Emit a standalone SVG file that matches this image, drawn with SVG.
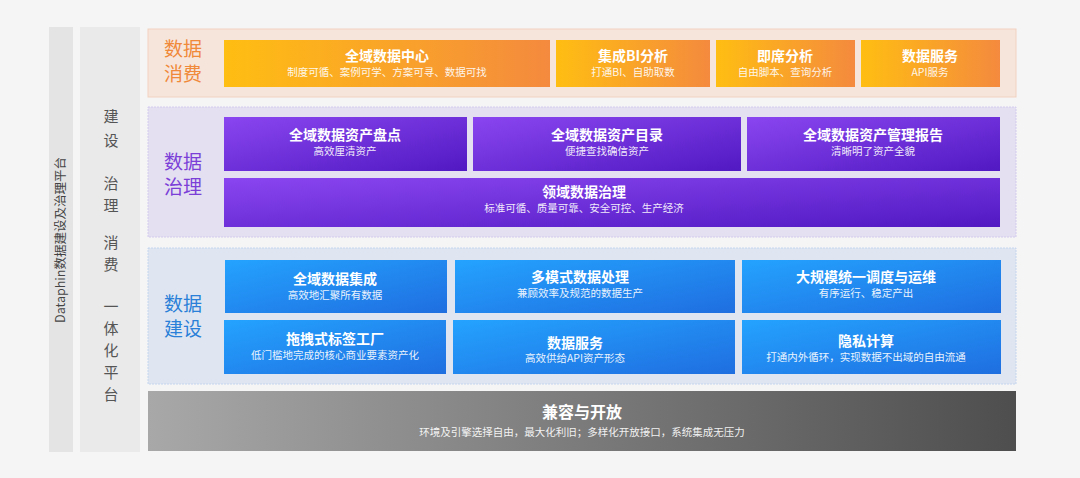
<svg xmlns="http://www.w3.org/2000/svg" width="1080" height="478" viewBox="0 0 1080 478">
<defs>
<linearGradient id="go" x1="0" x2="1"><stop offset="0" stop-color="#ffbe12"/><stop offset="1" stop-color="#f48a3e"/></linearGradient>
<linearGradient id="gp" x1="0" y1="0" x2="1" y2="1"><stop offset="0" stop-color="#8a46f0"/><stop offset="1" stop-color="#5119c2"/></linearGradient>
<linearGradient id="gb" x1="0" y1="0" x2="1" y2="1"><stop offset="0" stop-color="#24a3ff"/><stop offset="1" stop-color="#1f6ee0"/></linearGradient>
<linearGradient id="gg" x1="0" x2="1"><stop offset="0" stop-color="#a8a8a8"/><stop offset="1" stop-color="#4e4e4e"/></linearGradient>
<style>
text{font-family:"Noto Sans CJK SC","Liberation Sans",sans-serif;text-anchor:middle}
.t{fill:#fff;font-size:14px;font-weight:bold}
.s{fill:#fff;font-size:10.5px;opacity:.9}
.L{font-size:19px}
.v{font-size:15px;fill:#555}
.o rect{fill:url(#go)}.p rect{fill:url(#gp)}.b rect{fill:url(#gb)}
</style>
</defs>
<rect width="1080" height="478" fill="#f5f5f5"/>
<rect x="49" y="27" width="24" height="425" fill="#e4e4e4"/>
<text x="0" y="0" transform="translate(65,240) rotate(-90)" style="font-size:12.5px;fill:#444">Dataphin数据建设及治理平台</text>
<rect x="80" y="27" width="60" height="425" fill="#eaeaea"/>
<g class="v">
<text x="111" y="122" class="v">建</text><text x="111" y="146" class="v">设</text>
<text x="111" y="189" class="v">治</text><text x="111" y="211" class="v">理</text>
<text x="111" y="248" class="v">消</text><text x="111" y="270" class="v">费</text>
<text x="111" y="312" class="v">一</text><text x="111" y="334" class="v">体</text><text x="111" y="356" class="v">化</text><text x="111" y="378" class="v">平</text><text x="111" y="400" class="v">台</text>
</g>
<rect x="148" y="29" width="868" height="68" fill="#f6e5db" stroke="#f1d2bf"/>
<text x="183" y="56" class="L" fill="#f0893a">数据</text><text x="183" y="81" class="L" fill="#f0893a">消费</text>
<rect x="148" y="107" width="868" height="130" fill="#e4dff1" stroke="#d4cbee" stroke-dasharray="2 1"/>
<text x="183" y="169" class="L" fill="#7b3fd8">数据</text><text x="183" y="194" class="L" fill="#7b3fd8">治理</text>
<rect x="148" y="248" width="868" height="136" fill="#dfe6f1" stroke="#c4d6ee" stroke-dasharray="2 1"/>
<text x="183" y="311" class="L" fill="#2a7fd8">数据</text><text x="183" y="336" class="L" fill="#2a7fd8">建设</text>
<g id="consume" class="o">
<g id="c1"><rect x="224" y="40" width="326" height="47"/><text x="387" y="61" class="t">全域数据中心</text><text x="387" y="76" class="s">制度可循、案例可学、方案可寻、数据可找</text></g>
<g id="c2"><rect x="556" y="40" width="154" height="47"/><text x="633" y="61" class="t">集成BI分析</text><text x="633" y="76" class="s">打通BI、自助取数</text></g>
<g id="c3"><rect x="716" y="40" width="139" height="47"/><text x="785" y="61" class="t">即席分析</text><text x="785" y="76" class="s">自由脚本、查询分析</text></g>
<g id="c4"><rect x="861" y="40" width="139" height="47"/><text x="930" y="61" class="t">数据服务</text><text x="930" y="76" class="s">API服务</text></g>
</g>
<g id="govern" class="p">
<g id="g1"><rect x="224" y="117" width="243" height="54"/><text x="345" y="140" class="t">全域数据资产盘点</text><text x="345" y="155" class="s">高效厘清资产</text></g>
<g id="g2"><rect x="473" y="117" width="268" height="54"/><text x="607" y="140" class="t">全域数据资产目录</text><text x="607" y="155" class="s">便捷查找确信资产</text></g>
<g id="g3"><rect x="747" y="117" width="253" height="54"/><text x="873" y="140" class="t">全域数据资产管理报告</text><text x="873" y="155" class="s">清晰明了资产全貌</text></g>
<g id="g4"><rect x="224" y="178" width="776" height="49"/><text x="584" y="197" class="t">领域数据治理</text><text x="584" y="212" class="s">标准可循、质量可靠、安全可控、生产经济</text></g>
</g>
<g id="build" class="b">
<g id="b1"><rect x="225" y="260" width="222" height="53"/><text x="335" y="284" class="t">全域数据集成</text><text x="335" y="299" class="s">高效地汇聚所有数据</text></g>
<g id="b2"><rect x="455" y="260" width="280" height="53"/><text x="580" y="282" class="t">多模式数据处理</text><text x="580" y="297" class="s">兼顾效率及规范的数据生产</text></g>
<g id="b3"><rect x="742" y="260" width="259" height="53"/><text x="866" y="282" class="t">大规模统一调度与运维</text><text x="866" y="297" class="s">有序运行、稳定产出</text></g>
<g id="b4"><rect x="224" y="320" width="222" height="54"/><text x="335" y="344" class="t">拖拽式标签工厂</text><text x="335" y="359" class="s">低门槛地完成的核心商业要素资产化</text></g>
<g id="b5"><rect x="453" y="320" width="282" height="54"/><text x="575" y="348" class="t">数据服务</text><text x="575" y="362" class="s">高效供给API资产形态</text></g>
<g id="b6"><rect x="742" y="320" width="259" height="54"/><text x="866" y="346" class="t">隐私计算</text><text x="866" y="361" class="s">打通内外循环，实现数据不出域的自由流通</text></g>
</g>
<g id="open"><rect x="148" y="391" width="868" height="60" fill="url(#gg)"/><text x="582" y="418" class="t" style="font-size:16px">兼容与开放</text><text x="582" y="436" class="s">环境及引擎选择自由，最大化利旧；多样化开放接口，系统集成无压力</text></g>
<g id="connectors"/>
</svg>
